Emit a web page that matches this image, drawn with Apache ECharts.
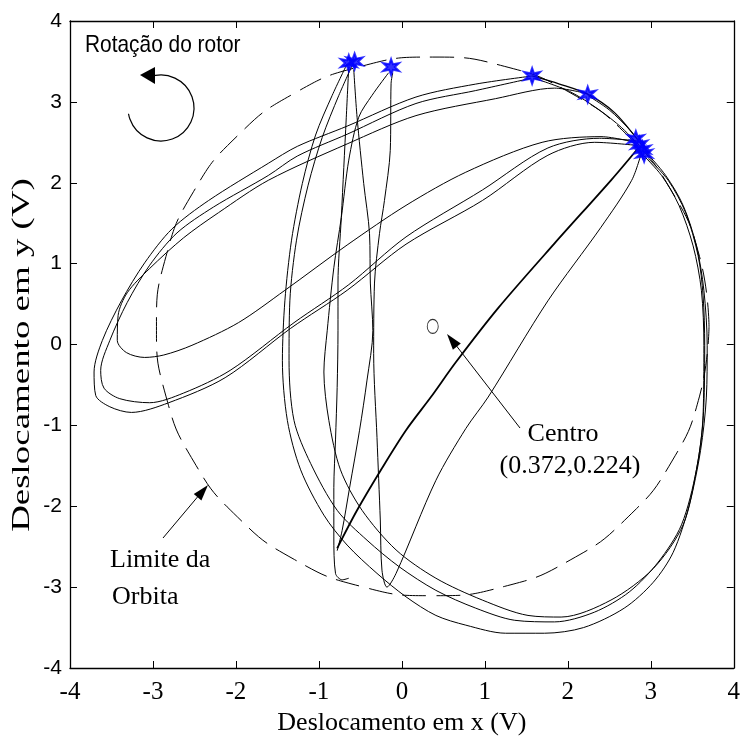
<!DOCTYPE html>
<html>
<head>
<meta charset="utf-8">
<script src="https://cdn.jsdelivr.net/npm/echarts@6/dist/echarts.min.js"></script>
<style>
html,body{margin:0;padding:0;background:#fff;}
#chart{width:743px;height:745px;}
</style>
</head>
<body>
<div id="chart"></div>
<script>
// ---- axis ranges / ticks ----
const xRange = [-4, 4];
const yRange = [-4, 4];
const tickStep = 1;

// ---- orbit limit (dashed circle), center (0.372, 0.224) ----
const centerPoint = [[0.372, 0.224]];
const orbitLimit = [[3.702,0.224],[3.588,1.086],[3.256,1.889],[2.727,2.579],[2.037,3.108],[1.234,3.440],[0.372,3.554],[-0.490,3.440],[-1.293,3.108],[-1.983,2.579],[-2.512,1.889],[-2.844,1.086],[-2.958,0.224],[-2.844,-0.638],[-2.512,-1.441],[-1.983,-2.131],[-1.293,-2.660],[-0.490,-2.992],[0.372,-3.106],[1.234,-2.992],[2.037,-2.660],[2.727,-2.131],[3.256,-1.441],[3.588,-0.638],[3.702,0.224]];

// ---- once-per-turn markers (blue stars) ----
const phaseMarks = [[-0.64,3.48],[-0.57,3.50],[-0.13,3.43],[1.57,3.32],[2.24,3.09],[2.82,2.54],[2.86,2.47],[2.90,2.41],[2.92,2.36]];

// ---- measured orbit traces ----
const traceLO1 = [[1.57,3.32],[0.89,3.22],[0.17,3.06],[-0.66,2.70],[-1.26,2.45],[-1.61,2.24],[-2.33,1.78],[-2.77,1.43],[-3.10,1.01],[-3.38,0.54],[-3.61,0.05],[-3.71,-0.34],[-3.69,-0.63],[-3.52,-0.77],[-3.26,-0.84],[-2.81,-0.72],[-2.13,-0.41],[-1.34,0.20],[-0.66,0.67],[0.05,1.24],[0.97,1.78],[1.76,2.34],[2.32,2.50],[2.85,2.46]];
const traceLO2 = [[1.55,3.29],[0.89,3.14],[0.17,2.98],[-0.66,2.60],[-1.26,2.33],[-1.61,2.09],[-2.27,1.70],[-2.71,1.38],[-3.04,0.98],[-3.31,0.52],[-3.52,0.05],[-3.63,-0.32],[-3.59,-0.54],[-3.40,-0.67],[-3.04,-0.72],[-2.63,-0.60],[-2.07,-0.32],[-1.30,0.27],[-0.64,0.74],[0.05,1.33],[0.97,1.91],[1.76,2.43],[2.38,2.55],[2.83,2.52]];
const traceLI = [[2.24,3.10],[1.84,3.17],[1.13,3.04],[0.17,2.83],[-0.66,2.48],[-1.61,2.03],[-2.21,1.63],[-2.63,1.32],[-3.04,0.94],[-3.31,0.64],[-3.42,0.36],[-3.43,0.05],[-3.32,-0.10],[-3.10,-0.16],[-2.87,-0.13],[-2.53,-0.01],[-1.97,0.27],[-1.41,0.67],[-0.66,1.23],[0.05,1.72],[0.77,2.13],[1.69,2.50],[2.40,2.57],[2.85,2.49]];
const traceArc1 = [[1.57,3.32],[1.90,3.22],[2.25,3.09],[2.56,2.87],[2.85,2.52]];
const traceArc2 = [[1.60,3.29],[2.02,3.13],[2.38,2.90],[2.65,2.68],[2.89,2.43]];
const traceArc3 = [[2.24,3.08],[2.50,2.90],[2.75,2.65],[2.90,2.45]];
const traceR1 = [[-0.66,3.47],[-0.84,3.08],[-1.04,2.59],[-1.20,1.99],[-1.33,1.29],[-1.41,0.54],[-1.44,-0.20],[-1.38,-0.94],[-1.22,-1.55],[-0.94,-2.11],[-0.66,-2.48],[-0.30,-2.83],[0.05,-3.12],[0.41,-3.35],[0.77,-3.47],[1.25,-3.57],[1.72,-3.57],[2.19,-3.50],[2.68,-3.26],[3.03,-2.94],[3.27,-2.57],[3.46,-2.00],[3.60,-1.31],[3.67,-0.65],[3.68,-0.01],[3.64,0.67],[3.55,1.22],[3.39,1.72],[3.18,2.09],[2.94,2.38]];
const traceR2 = [[-0.59,3.47],[-0.76,3.08],[-0.96,2.56],[-1.13,1.97],[-1.27,1.29],[-1.35,0.54],[-1.36,-0.20],[-1.30,-0.94],[-1.10,-1.47],[-0.78,-2.05],[-0.42,-2.42],[-0.03,-2.75],[0.41,-3.04],[0.89,-3.26],[1.36,-3.41],[1.84,-3.43],[2.32,-3.31],[2.74,-3.06],[3.09,-2.69],[3.37,-2.23],[3.55,-1.55],[3.63,-0.88],[3.64,-0.01],[3.61,0.67],[3.51,1.22],[3.34,1.72],[3.13,2.09],[2.91,2.34]];
const traceR3 = [[-0.16,3.36],[-0.36,3.08],[-0.52,2.81],[-0.64,2.28],[-0.73,1.57],[-0.82,0.95],[-0.90,0.17],[-0.94,-0.34],[-0.88,-0.94],[-0.74,-1.55],[-0.48,-2.05],[-0.07,-2.54],[0.41,-2.89],[0.97,-3.16],[1.52,-3.35],[1.92,-3.37],[2.52,-3.16],[3.03,-2.77],[3.39,-2.23],[3.55,-1.55],[3.63,-0.94],[3.65,-0.01],[3.63,0.61],[3.57,1.10],[3.42,1.63],[3.21,2.03],[2.97,2.30]];
const traceV1L = [[-0.64,3.44],[-0.67,2.81],[-0.70,2.19],[-0.73,1.57],[-0.77,0.76],[-0.77,0.17],[-0.78,-0.53],[-0.80,-1.18],[-0.82,-1.77],[-0.82,-2.38],[-0.80,-2.83],[-0.72,-2.91],[-0.64,-2.89]];
const traceV1R = [[-0.58,3.40],[-0.54,2.81],[-0.46,1.99],[-0.39,1.37],[-0.38,0.76],[-0.35,0.17],[-0.42,-0.44],[-0.51,-1.06],[-0.63,-1.77],[-0.72,-2.30],[-0.78,-2.55]];
const traceD1 = [[-0.78,-2.52],[-0.54,-2.05],[-0.24,-1.53],[0.05,-1.06],[0.35,-0.65],[0.65,-0.22],[1.16,0.45],[1.84,1.25],[2.52,2.03],[2.85,2.43]];
const traceV2 = [[-0.11,3.36],[-0.13,3.23],[-0.14,2.40],[-0.21,1.78],[-0.27,1.37],[-0.33,0.76],[-0.34,-0.11],[-0.30,-1.15],[-0.26,-2.17],[-0.24,-2.79],[-0.18,-3.00],[-0.07,-2.83],[0.41,-1.68],[0.77,-1.04],[1.04,-0.65],[1.76,0.54],[2.40,1.45],[2.77,2.03],[2.89,2.38]];

const traces = [
  {d: traceLO1, w: 1}, {d: traceLO2, w: 1}, {d: traceLI, w: 1},
  {d: traceArc1, w: 1.3}, {d: traceArc2, w: 1}, {d: traceArc3, w: 1},
  {d: traceR1, w: 1}, {d: traceR2, w: 1}, {d: traceR3, w: 1},
  {d: traceV1L, w: 1}, {d: traceV1R, w: 1}, {d: traceD1, w: 1.8}, {d: traceV2, w: 1}
];

const serif = '"Liberation Serif","Times New Roman",serif';
const sans = '"Liberation Sans",Arial,sans-serif';
const starPath = 'path://M0,-1L0.2,-0.346L0.866,-0.5L0.4,0L0.866,0.5L0.2,0.346L0,1L-0.2,0.346L-0.866,0.5L-0.4,0L-0.866,-0.5L-0.2,-0.346Z';

const chart = echarts.init(document.getElementById('chart'), null, {renderer: 'canvas'});

function axisCommon(pos, showLabel, labelFont, labelSize) {
  const vertical = (pos === 'left' || pos === 'right');
  return {
    type: 'value', position: pos,
    min: vertical ? yRange[0] : xRange[0],
    max: vertical ? yRange[1] : xRange[1], interval: tickStep,
    axisLine: {show: true, onZero: false, lineStyle: {color: '#000', width: 1.3}},
    axisTick: {show: true, inside: true, length: 7, lineStyle: {color: '#000', width: 1}},
    axisLabel: {show: showLabel, color: '#000', fontFamily: labelFont, fontSize: labelSize, margin: (pos === 'bottom') ? 12 : 8},
    splitLine: {show: false}
  };
}

const series = traces.map(t => ({
  type: 'line', data: t.d, showSymbol: false, symbol: 'none', smooth: 0.3, silent: true,
  lineStyle: {color: '#000', width: t.w}, z: 2, animation: false
}));
series.unshift({
  type: 'line', data: orbitLimit, showSymbol: false, symbol: 'none', smooth: true, silent: true,
  lineStyle: {color: '#000', width: 1, type: [24, 10]}, z: 1, animation: false
});
series.push({
  type: 'scatter', data: centerPoint, symbol: 'circle', symbolSize: [11, 14], silent: true,
  itemStyle: {color: 'rgba(0,0,0,0)', borderColor: '#000', borderWidth: 1}, z: 4, animation: false
});
series.push({
  type: 'scatter', data: phaseMarks, symbol: starPath, symbolSize: 16, silent: true,
  itemStyle: {color: '#0000ff', borderColor: '#0000ff', borderWidth: 2}, z: 5, animation: false
});

const xBottom = axisCommon('bottom', true, serif, 25);
xBottom.name = 'Deslocamento em x (V)';
xBottom.nameLocation = 'middle';
xBottom.nameGap = 38;
xBottom.nameTextStyle = {color: '#000', fontFamily: serif, fontSize: 26};
const xTop = axisCommon('top', false, serif, 25);
const yLeft = axisCommon('left', true, sans, 21);
const yRight = axisCommon('right', false, sans, 21);

chart.setOption({
  animation: false,
  backgroundColor: '#fff',
  grid: {left: 70, right: 2, top: 21, bottom: 77, containLabel: false},
  xAxis: [xBottom, xTop],
  yAxis: [yLeft, yRight],
  series: series,
  graphic: [
    {type: 'text', x: 22, y: 355, rotation: Math.PI / 2, scaleX: 1.42, scaleY: 1,
     style: {text: 'Deslocamento em y (V)', font: '26px ' + serif, fill: '#000', align: 'center', verticalAlign: 'middle', textAlign: 'center', textVerticalAlign: 'middle'}},
    {type: 'text', x: 85, y: 45, scaleX: 0.87,
     style: {text: 'Rotação do rotor', font: '24px ' + sans, fill: '#000', align: 'left', verticalAlign: 'middle', textAlign: 'left', textVerticalAlign: 'middle'}},
    {type: 'arc', shape: {cx: 161, cy: 108, r: 33, startAngle: 250 * Math.PI / 180, endAngle: 170 * Math.PI / 180, clockwise: true},
     style: {stroke: '#000', lineWidth: 1.2, fill: null}},
    {type: 'polygon', shape: {points: [[140, 75], [155, 67], [155, 84]]}, style: {fill: '#000'}},
    {type: 'text', x: 563, y: 434,
     style: {text: 'Centro', font: '26px ' + serif, fill: '#000', align: 'center', verticalAlign: 'middle', textAlign: 'center', textVerticalAlign: 'middle'}},
    {type: 'text', x: 570, y: 466,
     style: {text: '(0.372,0.224)', font: '26px ' + serif, fill: '#000', align: 'center', verticalAlign: 'middle', textAlign: 'center', textVerticalAlign: 'middle'}},
    {type: 'line', shape: {x1: 520, y1: 428, x2: 455, y2: 344}, style: {stroke: '#000', lineWidth: 1}},
    {type: 'polygon', shape: {points: [[447, 334], [460.8, 343.5], [452.9, 349.7]]}, style: {fill: '#000'}},
    {type: 'text', x: 110, y: 560,
     style: {text: 'Limite da', font: '26px ' + serif, fill: '#000', align: 'left', verticalAlign: 'middle', textAlign: 'left', textVerticalAlign: 'middle'}},
    {type: 'text', x: 112, y: 597,
     style: {text: 'Orbita', font: '26px ' + serif, fill: '#000', align: 'left', verticalAlign: 'middle', textAlign: 'left', textVerticalAlign: 'middle'}},
    {type: 'line', shape: {x1: 163, y1: 538, x2: 200, y2: 494}, style: {stroke: '#000', lineWidth: 1}},
    {type: 'polygon', shape: {points: [[208, 485], [201.4, 500.4], [193.8, 494.0]]}, style: {fill: '#000'}}
  ]
});
</script>
</body>
</html>
